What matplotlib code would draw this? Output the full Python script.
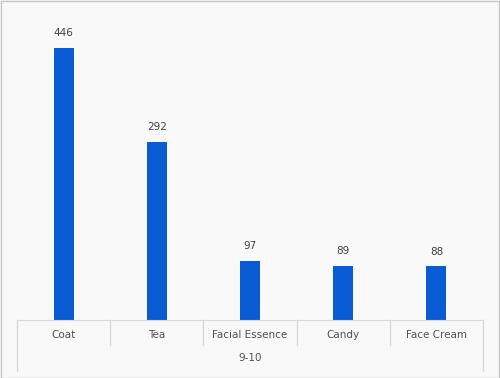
import matplotlib
matplotlib.use("Agg")
import matplotlib.pyplot as plt
from matplotlib.patches import Rectangle

categories = ["Coat", "Tea", "Facial Essence", "Candy", "Face Cream"]
values = [446, 292, 97, 89, 88]
group_label = "9-10"

W, H = 500, 378
fig = plt.figure(figsize=(W / 100, H / 100), dpi=100, facecolor="#f9f9f9")

# plot area in pixels
x0, x1 = 17, 483
y_base, y_top = 320, 15
ax = fig.add_axes([x0 / W, (H - y_base) / H, (x1 - x0) / W, (y_base - y_top) / H])
ax.set_facecolor("none")

n = len(categories)
xs = list(range(n))
ax.bar(xs, values, width=0.215, color="#0a5cd4", zorder=2)
ax.set_xlim(-0.5, n - 0.5)
ax.set_ylim(0, 500)

for x, v in zip(xs, values):
    ax.annotate(str(v), (x, v), xytext=(0, 7), textcoords="offset points",
                ha="center", va="bottom", fontsize=7.5, color="#404040",
                family="DejaVu Sans")

for s in ["top", "left", "right"]:
    ax.spines[s].set_visible(False)
ax.spines["bottom"].set_color("#d9d9d9")
ax.set_xticks([])
ax.set_yticks([])

# multi-level category axis
ah = y_base - y_top
def fy(px):
    return -(px - y_base) / ah

line_kw = dict(color="#d9d9d9", lw=1, clip_on=False, transform=ax.get_xaxis_transform())
for i in range(n + 1):
    xb = i - 0.5
    bottom = 371 if i in (0, n) else 345
    ax.plot([xb, xb], [0, fy(bottom)], **line_kw)

for x, c in zip(xs, categories):
    ax.text(x, fy(335), c, ha="center", va="center", fontsize=7.5, color="#505050",
            transform=ax.get_xaxis_transform(), family="DejaVu Sans")
ax.text((n - 1) / 2, fy(358), group_label, ha="center", va="center", fontsize=7.5,
        color="#505050", transform=ax.get_xaxis_transform(), family="DejaVu Sans")

# outer border
fig.patches.append(Rectangle((0.5 / W, 0.5 / H), 1 - 1.5 / W, 1 - 1.5 / H,
                             transform=fig.transFigure, fill=False,
                             edgecolor="#c8c8c8", lw=1))

fig.savefig("out.png", dpi=100, facecolor=fig.get_facecolor())
